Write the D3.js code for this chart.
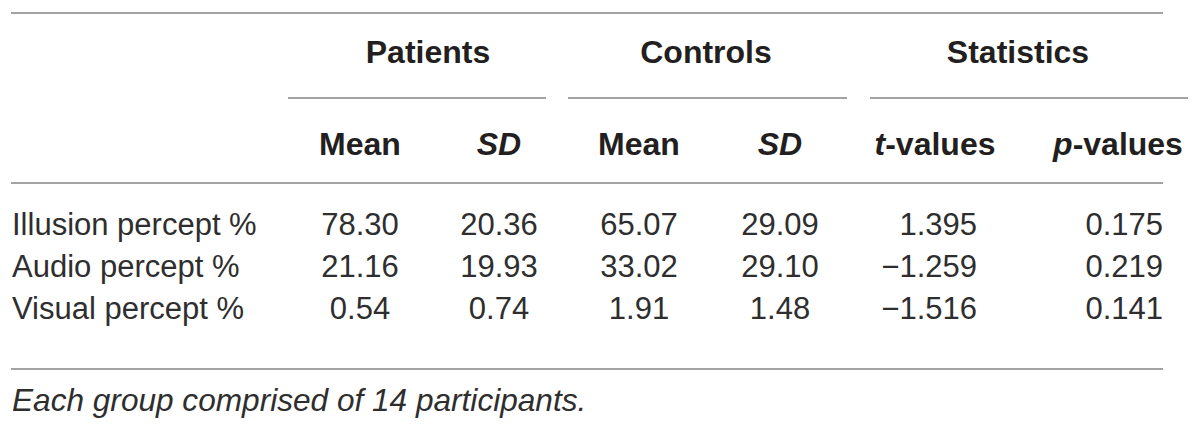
<!DOCTYPE html>
<html>
<head>
<meta charset="utf-8">
<script src="https://cdn.jsdelivr.net/npm/d3@7"></script>
<style>
  body { margin: 0; background: #fff; }
  text { font-family: "Liberation Sans", Arial, sans-serif; fill: #231f20; }
  .group { font-weight: bold; font-size: 32px; }
  .sub { font-weight: bold; font-size: 32px; }
  .cell { font-size: 31px; fill: #2e2e2e; }
  .note { font-size: 31.6px; font-style: italic; fill: #2e2e2e; }
  .rule { stroke: #a3a3a3; stroke-width: 2; }
</style>
</head>
<body>
<div id="table"></div>
<script>
let canvasWidth = 1200;
let canvasHeight = 430;

// table content
let groups = ["Patients", "Controls", "Statistics"];
let columns = ["pMean", "pSD", "cMean", "cSD", "t", "p"];
let rowLabels = ["Illusion percept %", "Audio percept %", "Visual percept %"];
let patientMean = ["78.30", "21.16", "0.54"];
let patientSD = ["20.36", "19.93", "0.74"];
let controlMean = ["65.07", "33.02", "1.91"];
let controlSD = ["29.09", "29.10", "1.48"];
let tValues = ["1.395", "\u22121.259", "\u22121.516"];
let pValues = ["0.175", "0.219", "0.141"];
let note = "Each group comprised of 14 participants.";

let svg = d3.select("div#table")
    .append("svg")
    .attr("width", canvasWidth)
    .attr("height", canvasHeight);

let left = 11, right = 1163;

// column anchors for body cells
let xCol = d3.scaleOrdinal()
    .domain(columns)
    .range([360, 499, 639, 780, 977, 1163]);
let anchorCol = d3.scaleOrdinal()
    .domain(columns)
    .range(["middle", "middle", "middle", "middle", "end", "end"]);

// column centres for the sub headers
let xSub = d3.scaleOrdinal()
    .domain(columns)
    .range([360, 499, 639, 780, 935, 1118]);

// group header centres and underline spans
let xGroup = d3.scaleOrdinal()
    .domain(groups)
    .range([428, 706, 1018]);
let groupSpan = d3.scaleOrdinal()
    .domain(groups)
    .range([[288, 546], [568, 847], [870, 1188]]);

let yRow = d3.scalePoint()
    .domain(rowLabels)
    .range([224, 308]);

// horizontal rules
[13, 183, 369].forEach(y => {
    svg.append("line").attr("class", "rule")
        .attr("x1", left).attr("x2", right)
        .attr("y1", y).attr("y2", y);
});

// group headers with underline
svg.selectAll("text.group")
    .data(groups)
    .join("text")
    .attr("class", "group")
    .attr("x", d => xGroup(d))
    .attr("y", 52)
    .attr("dy", "0.35em")
    .attr("text-anchor", "middle")
    .text(d => d);

svg.selectAll("line.grule")
    .data(groups)
    .join("line")
    .attr("class", "rule grule")
    .attr("x1", d => groupSpan(d)[0])
    .attr("x2", d => groupSpan(d)[1])
    .attr("y1", 98).attr("y2", 98);

// sub headers (italic parts flagged)
let subHeaders = [
    [["Mean", false]], [["SD", true]], [["Mean", false]], [["SD", true]],
    [["t", true], ["-values", false]], [["p", true], ["-values", false]]
];
columns.forEach((c, i) => {
    svg.append("text")
        .attr("class", "sub")
        .attr("x", xSub(c))
        .attr("y", 144)
        .attr("dy", "0.35em")
        .attr("text-anchor", "middle")
        .selectAll("tspan")
        .data(subHeaders[i])
        .join("tspan")
        .attr("font-style", d => d[1] ? "italic" : "normal")
        .text(d => d[0]);
});

// row labels
svg.selectAll("text.label")
    .data(rowLabels)
    .join("text")
    .attr("class", "cell label")
    .attr("x", 12)
    .attr("y", d => yRow(d))
    .attr("dy", "0.35em")
    .text(d => d);

// cells
let colValues = [patientMean, patientSD, controlMean, controlSD, tValues, pValues];
columns.forEach((c, i) => {
    svg.selectAll("text.col-" + c)
        .data(colValues[i])
        .join("text")
        .attr("class", "cell col-" + c)
        .attr("x", xCol(c))
        .attr("y", (d, j) => yRow(rowLabels[j]))
        .attr("dy", "0.35em")
        .attr("text-anchor", anchorCol(c))
        .text(d => d);
});

// footnote
svg.append("text")
    .attr("class", "note")
    .attr("x", 12)
    .attr("y", 400)
    .attr("dy", "0.35em")
    .text(note);
</script>
</body>
</html>
